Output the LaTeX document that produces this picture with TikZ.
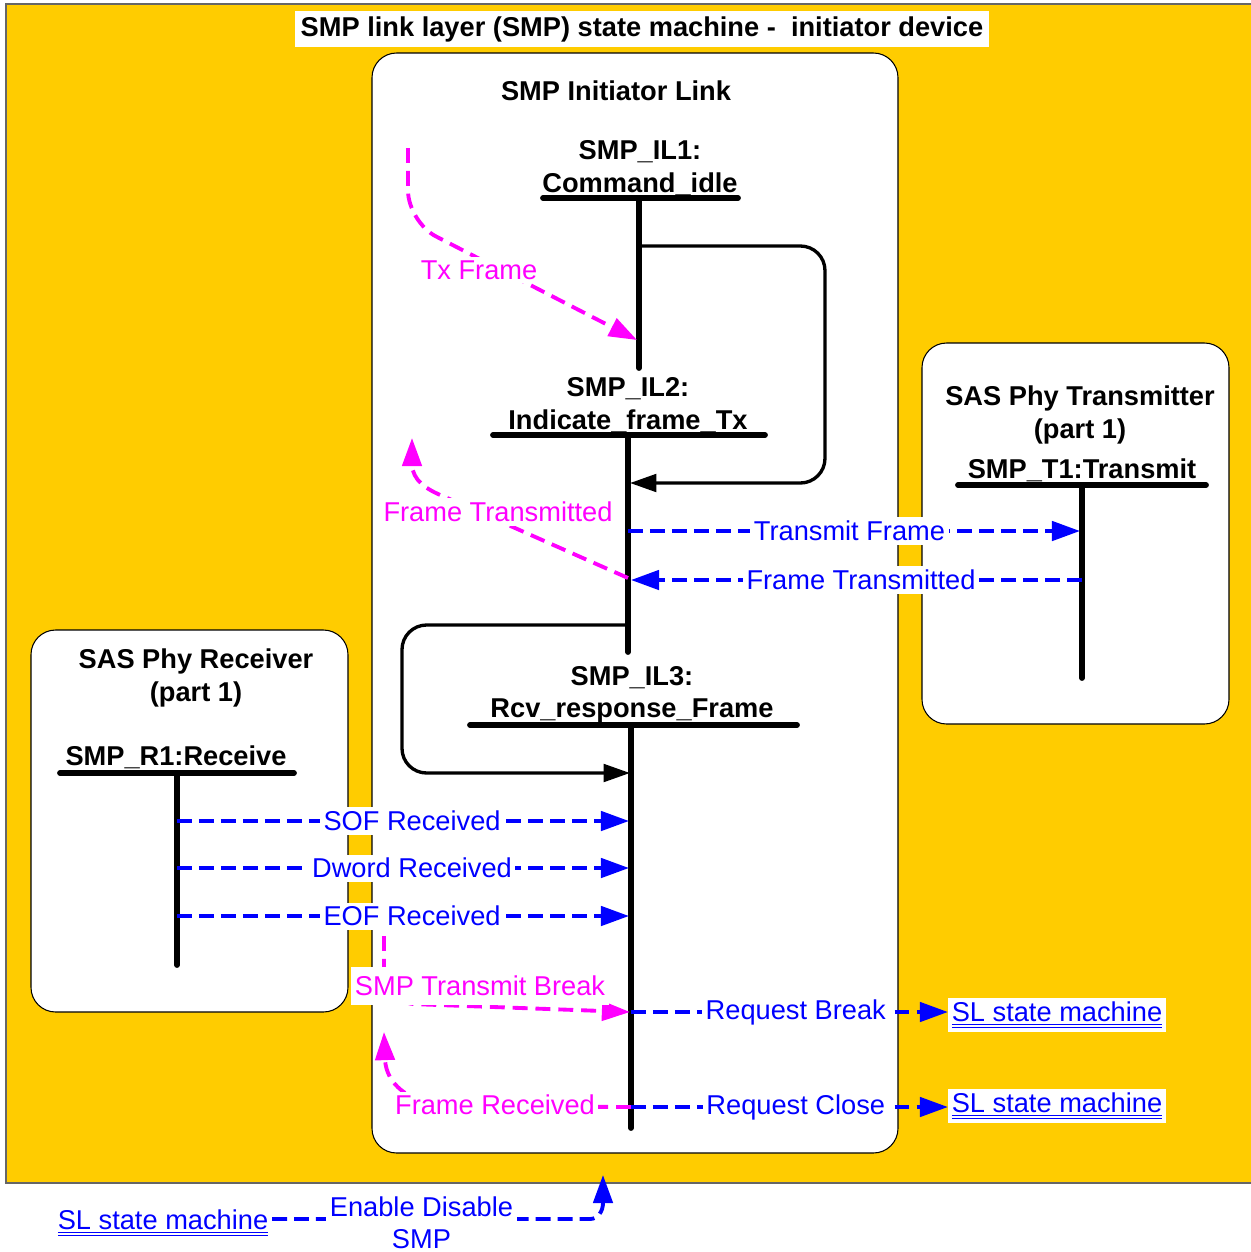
\documentclass[tikz,border=0pt]{standalone}
\usepackage{fontspec}
\setmainfont{Liberation Sans}
\usetikzlibrary{arrows.meta, positioning}

\definecolor{sasyellow}{HTML}{FFCC00}
\definecolor{msgmag}{RGB}{255,0,255}
\definecolor{sigblue}{RGB}{0,0,255}
\newcommand{\dblul}[1]{\underline{\underline{#1}}}

\tikzset{
  txt/.style={font=\fontsize{15.5}{18.5}\selectfont, inner sep=2pt},
  statelbl/.style={font=\fontsize{15.5}{18.5}\selectfont\bfseries, align=center, inner sep=2pt},
  box/.style={draw=black, fill=white, line width=0.6pt, rounded corners=14pt},
  bar/.style={line width=3.3pt, line cap=round},
  loopline/.style={line width=1.9pt, rounded corners=14pt, -{Triangle[length=15pt,width=10pt]}},
  sig/.style={sigblue, line width=2.2pt, dash pattern=on 8.5pt off 4pt, -{Triangle[length=16pt,width=11pt]}},
  sigtxt/.style={txt, fill=white, text=sigblue},
  mflow/.style={msgmag, line width=2.2pt, dash pattern=on 8.5pt off 4.5pt},
  mtip/.style={-{Triangle[length=16pt,width=11pt]}},
  mtxt/.style={txt, fill=white, text=msgmag},
  link/.style={txt, fill=white, text=sigblue}
}

\begin{document}
\begin{tikzpicture}[x=0.02cm, y=-0.02cm]
    \useasboundingbox (0,0) rectangle (1251,1252);
    \fill[sasyellow] (6,4) rectangle (1262,1183);
    \draw[black!60, line width=0.8pt] (1262,4) -- (6,4) -- (6,1183) -- (1262,1183);
    \node[statelbl, fill=white, inner sep=3pt] (title) at (642,29) {SMP link layer (SMP) state machine -\ \ initiator device};

    % boxes
    \draw[box] (372,53) rectangle (898,1153);
    \draw[box] (31,630) rectangle (348,1012);
    \draw[box] (922,343) rectangle (1229,724);
    \node[statelbl] (ilink) at (616,91) {SMP Initiator Link};
    \node[statelbl] (rcv) at (196,678) {SAS Phy Receiver\\(part 1)};
    \node[statelbl] (xmt) at (1080,415) {SAS Phy Transmitter\\(part 1)};

    % states
    \node[statelbl] (il1) at (640,168) {SMP\_IL1:\\Command\_idle};
    \node[statelbl] (il2) at (628,405) {SMP\_IL2:\\Indicate\_frame\_Tx};
    \node[statelbl] (il3) at (632,695) {SMP\_IL3:\\Rcv\_response\_Frame};
    \node[statelbl] (r1) at (176,757) {SMP\_R1:Receive};
    \node[statelbl] (t1) at (1082,470) {SMP\_T1:Transmit};

    \coordinate (il1w) at (543,198);
    \coordinate (il1e) at (738,198);
    \coordinate (il1t) at (639,198);
    \coordinate (il1b) at (639,368);
    \draw[bar] (il1w) -- (il1e);
    \draw[bar] (il1t) -- (il1b);

    \coordinate (il2w) at (493,435);
    \coordinate (il2e) at (765,435);
    \coordinate (il2t) at (628,435);
    \coordinate (il2b) at (628,652);
    \draw[bar] (il2w) -- (il2e);
    \draw[bar] (il2t) -- (il2b);

    \coordinate (il3w) at (470,725);
    \coordinate (il3e) at (797,725);
    \coordinate (il3t) at (631,725);
    \coordinate (il3b) at (631,1128);
    \draw[bar] (il3w) -- (il3e);
    \draw[bar] (il3t) -- (il3b);

    \coordinate (r1w) at (60,773);
    \coordinate (r1e) at (294,773);
    \coordinate (r1t) at (177,773);
    \coordinate (r1b) at (177,965);
    \draw[bar] (r1w) -- (r1e);
    \draw[bar] (r1t) -- (r1b);

    \coordinate (t1w) at (958,485);
    \coordinate (t1e) at (1206,485);
    \coordinate (t1t) at (1082,485);
    \coordinate (t1b) at (1082,678);
    \draw[bar] (t1w) -- (t1e);
    \draw[bar] (t1t) -- (t1b);

    % transitions
    \coordinate (lp1a) at (639,246);
    \coordinate (lp1b) at (630,483);
    \draw[loopline] (lp1a) -- (825,246) -- (825,483) -- (lp1b);
    \coordinate (lp2a) at (628,625);
    \coordinate (lp2b) at (630,773);
    \draw[loopline] (lp2a) -- (402,625) -- (402,773) -- (lp2b);

    % local messages
    \coordinate (txs) at (408,148);
    \coordinate (il1x) at (637,340);
    \draw[mflow, mtip, rounded corners=18pt] (txs) -- (408,222) -- (il1x);
    \node[mtxt] (txf) at (479,270) {Tx Frame};

    \coordinate (il2f) at (628,578);
    \coordinate (ftu) at (412,438);
    \draw[mflow, mtip] (il2f) -- (445,497) .. controls (425,489) and (413,480) .. (412,465) -- (ftu);
    \node[mtxt] (ftm) at (498,512) {Frame Transmitted};

    \coordinate (stbs) at (384,936);
    \coordinate (il3s) at (630,1012);
    \draw[mflow, mtip, rounded corners=18pt] (stbs) -- (384,1003) -- (il3s);
    \node[mtxt, inner ysep=5pt] (stb) at (480,986) {SMP Transmit Break};

    \coordinate (il3r) at (631,1107);
    \coordinate (frt) at (384,1032);
    \draw[mflow, mtip] (il3r) -- (440,1106) .. controls (408,1100) and (387,1085) .. (385,1060) -- (frt);
    \node[mtxt] (frr) at (495,1105) {Frame Received};

    % signals
    \coordinate (il2s) at (628,531);
    \coordinate (t1s) at (1080,531);
    \draw[sig] (il2s) -- node[sigtxt, pos=0.49] {Transmit Frame} (t1s);
    \coordinate (t1r) at (1082,580);
    \coordinate (il2r) at (631,580);
    \draw[sig] (t1r) -- node[sigtxt, pos=0.49] {Frame Transmitted} (il2r);

    \coordinate (r1s) at (177,821);
    \coordinate (il3a) at (629,821);
    \draw[sig] (r1s) -- node[sigtxt, pos=0.52] {SOF Received} (il3a);
    \coordinate (r1d) at (177,868);
    \coordinate (il3d) at (629,868);
    \draw[sig] (r1d) -- node[sigtxt, pos=0.52] {Dword Received} (il3d);
    \coordinate (r1e2) at (177,916);
    \coordinate (il3e2) at (629,916);
    \draw[sig] (r1e2) -- node[sigtxt, pos=0.52] {EOF Received} (il3e2);

    \node[link] (slb) at (1057,1015) {\dblul{SL state machine}};
    \node[link] (slc) at (1057,1106) {\dblul{SL state machine}};
    \node[link] (sla) at (163,1223) {\dblul{SL state machine}};
    \coordinate (il3q) at (631,1012);
    \draw[sig] (il3q) -- node[sigtxt, pos=0.52] {Request Break} (slb.west |- il3q);
    \draw[sig] (il3r) -- node[sigtxt, pos=0.52] {Request Close} (slc.west |- il3r);

    \coordinate (eda) at (590,1219);
    \coordinate (edb) at (603,1175);
    \draw[sig] (sla.east |- eda) -- node[sigtxt, align=center, pos=0.47, yshift=-2pt] {Enable Disable\\SMP} (eda) to[out=0, in=-90] (603,1203) -- (edb);
\end{tikzpicture}
\end{document}
